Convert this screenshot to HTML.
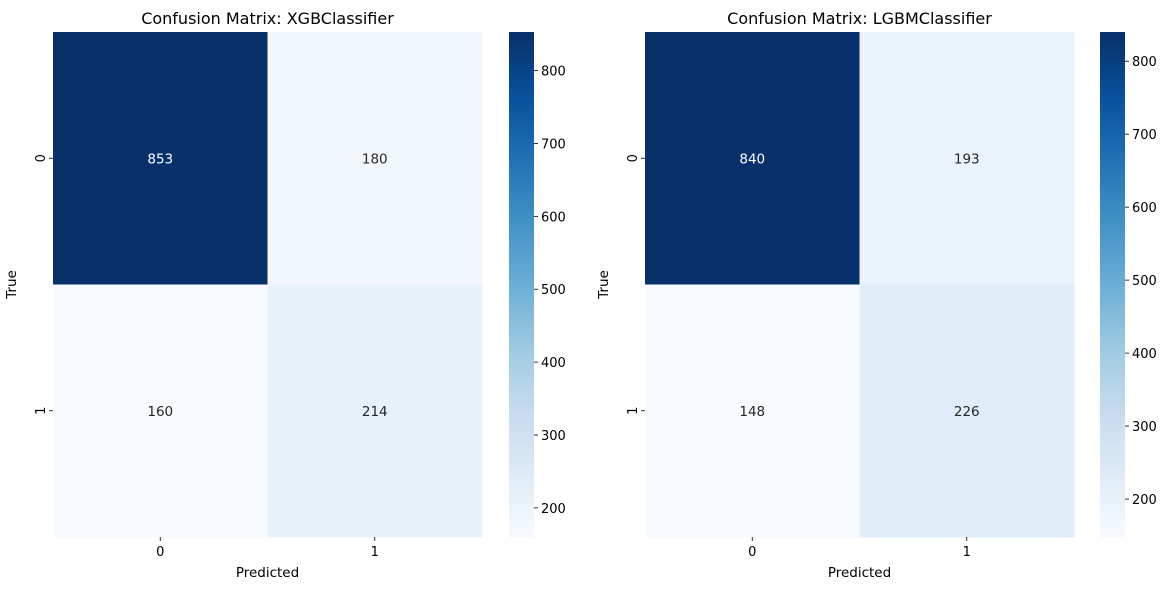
<!DOCTYPE html>
<html><head><meta charset="utf-8"><style>
html,body{margin:0;padding:0;background:#fff;}
svg{display:block;font-family:"DejaVu Sans","Liberation Sans",sans-serif;}
</style></head><body>
<svg id="chart" width="1170" height="590" viewBox="0 0 1170 590" xmlns="http://www.w3.org/2000/svg"></svg>
<script>
const classLabels = ["0", "1"];
const modelNames = ["XGBClassifier", "LGBMClassifier"];
const xgbMatrix = [[853, 180], [160, 214]];
const lgbmMatrix = [[840, 193], [148, 226]];
const colorbarTicks = [200, 300, 400, 500, 600, 700, 800];

const matrices = [xgbMatrix, lgbmMatrix];
const panels = [{x0: 53, cb: 509}, {x0: 645, cb: 1100}];
const topY = 32, bottomY = 537, W = 429, cbW = 25;
const NS = "http://www.w3.org/2000/svg";
const svg = document.getElementById("chart");
const stops = ["#f7fbff","#deebf7","#c6dbef","#9ecae1","#6baed6","#4292c6","#2171b5","#08519c","#08306b"];
function hex(h){return [1,3,5].map(i=>parseInt(h.substr(i,2),16));}
function blues(t){t=Math.max(0,Math.min(1,t));const p=t*(stops.length-1);const i=Math.min(Math.floor(p),stops.length-2);const f=p-i;const a=hex(stops[i]),b=hex(stops[i+1]);return a.map((v,k)=>Math.round(v+(b[k]-v)*f));}
function rgb(c){return `rgb(${c[0]},${c[1]},${c[2]})`;}
function lum(c){const l=c.map(v=>{v/=255;return v<=0.03928?v/12.92:Math.pow((v+0.055)/1.055,2.4);});return 0.2126*l[0]+0.7152*l[1]+0.0722*l[2];}
function el(tag, attrs, parent){const e=document.createElementNS(NS,tag);for(const k in attrs)e.setAttribute(k,attrs[k]);(parent||svg).appendChild(e);return e;}
function txt(s, attrs, parent){const e=el("text",attrs,parent);e.textContent=s;return e;}

matrices.forEach((m, pi) => {
  const P = panels[pi];
  const flat = m.flat();
  const vmin = Math.min(...flat), vmax = Math.max(...flat);
  const n = classLabels.length;
  const cw = W / n, ch = (bottomY - topY) / n;
  const g = el("g", {});
  
  
  for (let r = 0; r < n; r++) for (let c = 0; c < n; c++) {
    const v = m[r][c];
    const col = blues((v - vmin) / (vmax - vmin));
    const rect = el("rect", {x: P.x0 + c*cw, y: topY + r*ch, width: cw + 0.5, height: ch + 0.5, fill: rgb(col)}, g);
    
    
    const t = txt(String(v), {x: P.x0 + (c+0.5)*cw, y: topY + (r+0.5)*ch + 5, "text-anchor": "middle", "font-size": 13.5, fill: lum(col) > 0.408 ? "#262626" : "#ffffff"}, g);
    
    
  }
  classLabels.forEach((lab, i) => {
    const cx = P.x0 + (i+0.5)*cw;
    el("line", {x1: cx, x2: cx, y1: bottomY, y2: bottomY + 4, stroke: "#000", "stroke-width": 0.8}, g);
    const xt = txt(lab, {x: cx, y: bottomY + 19, "text-anchor": "middle", "font-size": 13}, g);
    
    
    const cy = topY + (i+0.5)*ch;
    el("line", {x1: P.x0 - 4, x2: P.x0, y1: cy, y2: cy, stroke: "#000", "stroke-width": 0.8}, g);
    const yt = txt(lab, {x: 0, y: 0, "text-anchor": "middle", "font-size": 13, transform: `translate(${P.x0 - 8},${cy}) rotate(-90)`}, g);
    
    
  });
  const title = txt("Confusion Matrix: " + modelNames[pi], {x: P.x0 + W/2, y: 24, "text-anchor": "middle", "font-size": 16}, g);
  
  
  const xl = txt("Predicted", {x: P.x0 + W/2, y: 577, "text-anchor": "middle", "font-size": 13.5}, g);
  
  
  const yl = txt("True", {x: 0, y: 0, "text-anchor": "middle", "font-size": 13.5, transform: `translate(${P.x0 - 37},${(topY+bottomY)/2}) rotate(-90)`}, g);
  
  
  const cb = el("g", {}, g);
  
  
  const steps = 120, hh = (bottomY - topY) / steps;
  for (let s = 0; s < steps; s++) {
    el("rect", {x: P.cb, y: bottomY - (s+1)*hh, width: cbW, height: hh + 0.6, fill: rgb(blues((s+0.5)/steps))}, cb);
  }
  colorbarTicks.forEach(v => {
    if (v < vmin || v > vmax) return;
    const y = bottomY - (v - vmin) / (vmax - vmin) * (bottomY - topY);
    el("line", {x1: P.cb + cbW, x2: P.cb + cbW + 4, y1: y, y2: y, stroke: "#000", "stroke-width": 0.8}, cb);
    const t = txt(String(v), {x: P.cb + cbW + 7, y: y + 5, "font-size": 13}, cb);
    
    
  });
});
</script>
</body></html>
